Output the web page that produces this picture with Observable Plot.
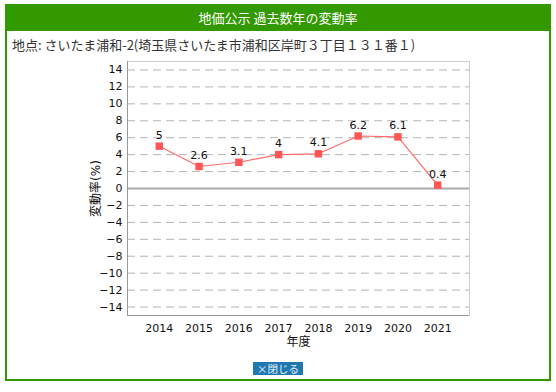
<!DOCTYPE html>
<html><head><meta charset="utf-8">
<script src="https://cdn.jsdelivr.net/npm/d3@7"></script>
<script src="https://cdn.jsdelivr.net/npm/@observablehq/plot@0.6"></script>
<style>
body{margin:0;background:#fff;font-family:"DejaVu Sans","Noto Sans CJK JP",sans-serif;}
#page{position:relative;width:556px;height:392px;overflow:hidden;}
#box{position:absolute;left:5px;top:4px;width:542px;height:375px;border:2px solid #339900;border-top:none;}
#hdr{position:absolute;left:5px;top:4px;width:546px;height:27px;background:#339900;color:#fff;font-size:13px;line-height:27px;text-align:center;font-family:"Noto Sans CJK JP",sans-serif;}
#sub{position:absolute;left:12px;top:35px;font-size:13px;color:#333;font-family:"Noto Sans CJK JP",sans-serif;}
#chart{position:absolute;left:0;top:50px;}
#btn{position:absolute;left:253px;top:362px;width:50px;height:13px;background:#1f78b0;color:#e8f0f8;font-size:10.5px;line-height:13px;text-align:center;font-family:"Noto Sans CJK JP",sans-serif;}
</style></head>
<body><div id="page">
<div id="box"></div>
<div id="hdr">地価公示 過去数年の変動率</div>
<div id="sub">地点: さいたま浦和-2(埼玉県さいたま市浦和区岸町３丁目１３１番１)</div>
<div id="chart"></div>
<div id="btn">×閉じる</div>
</div>
<script>
const years = [2014, 2015, 2016, 2017, 2018, 2019, 2020, 2021];
const rates = [5, 2.6, 3.1, 4, 4.1, 6.2, 6.1, 0.4];
const yTicks = [-14,-12,-10,-8,-6,-4,-2,0,2,4,6,8,10,12,14];
const data = years.map((y,i)=>({year:y, rate:rates[i]}));
const chart = Plot.plot({
  width: 556, height: 330,
  marginLeft: 127, marginRight: 87, marginTop: 11, marginBottom: 65,
  style: {fontFamily: '"DejaVu Sans","Noto Sans CJK JP",sans-serif', fontSize: "11px", color: "#111", background: "transparent"},
  x: {domain: [2013.2, 2021.8]},
  y: {domain: [-15, 15]},
  marks: [
    Plot.ruleY(yTicks.filter(d => d !== 0), {stroke: "#b5b5b5", strokeDasharray: "8,5", strokeWidth: 1}),
    Plot.frame({stroke: "#ccc"}),
    Plot.axisX({ticks: years, tickFormat: d => String(d), tickSize: 0, tickPadding: 9, label: null, fontSize: 11}),
    Plot.axisX({ticks: [], label: "年度", labelAnchor: "center", labelArrow: "none", labelOffset: 30, fontSize: 12}),
    Plot.axisY({ticks: yTicks, tickSize: 0, tickPadding: 5, label: null, fontSize: 11}),
    Plot.axisY({ticks: [], label: "変動率(%)", labelAnchor: "center", labelArrow: "none", labelOffset: 36, fontSize: 12}),
    Plot.ruleY([0], {stroke: "#aaa", strokeWidth: 2}),
    Plot.ruleY([-15], {stroke: "#999", strokeWidth: 1}),
    Plot.ruleX([2013.2], {stroke: "#999", strokeWidth: 1}),
    Plot.line(data, {x: "year", y: "rate", stroke: "#ff6b6b", strokeWidth: 1.2}),
    Plot.dot(data, {x: "year", y: "rate", symbol: "square", r: 4.2, fill: "#ff5555", stroke: "none"}),
    Plot.text(data, {x: "year", y: "rate", text: d => String(d.rate), dy: -11, fill: "#111", fontSize: 11})
  ]
});
document.getElementById("chart").appendChild(chart);
</script>
</body></html>
